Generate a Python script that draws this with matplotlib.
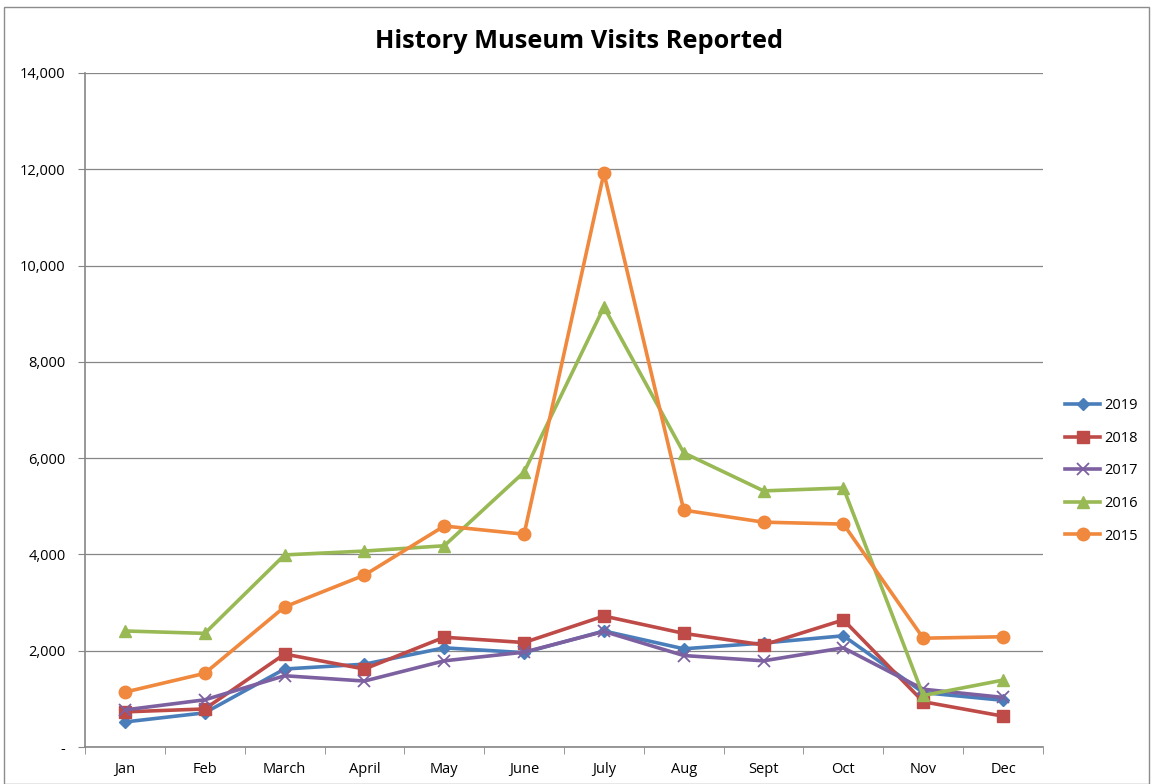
import matplotlib
matplotlib.use("Agg")
import matplotlib.pyplot as plt
from matplotlib.patches import Rectangle

months = ["Jan", "Feb", "March", "April", "May", "June", "July", "Aug", "Sept", "Oct", "Nov", "Dec"]
v2019 = [520, 710, 1620, 1720, 2060, 1960, 2410, 2040, 2160, 2310, 1130, 970]
v2018 = [730, 790, 1930, 1620, 2280, 2170, 2720, 2360, 2120, 2640, 940, 640]
v2017 = [770, 980, 1480, 1370, 1790, 1970, 2400, 1900, 1790, 2060, 1200, 1030]
v2016 = [2410, 2360, 3990, 4070, 4180, 5710, 9140, 6110, 5320, 5380, 1070, 1390]
v2015 = [1140, 1530, 2910, 3570, 4590, 4420, 11920, 4920, 4670, 4630, 2260, 2290]
series_names = ["2019", "2018", "2017", "2016", "2015"]
y_ticks = [0, 2000, 4000, 6000, 8000, 10000, 12000, 14000]
y_labels = ["-", "2,000", "4,000", "6,000", "8,000", "10,000", "12,000", "14,000"]

plt.rcParams['font.family'] = ['Open Sans', 'DejaVu Sans']

W, H = 1151, 784
fig = plt.figure(figsize=(W / 100, H / 100), dpi=100)
fig.patches.append(Rectangle((4 / W, 0), (W - 6) / W, (H - 7) / H, transform=fig.transFigure,
                             fill=False, edgecolor="#8c8c8c", linewidth=1.0))

ax = fig.add_axes([85 / W, 37 / H, (1043 - 85) / W, (747 - 73) / H])

styles = [
    dict(color="#4A7EBB", marker="D", markersize=6.5),
    dict(color="#BE4B48", marker="s", markersize=8.5),
    dict(color="#7D60A0", marker="x", markersize=8, markeredgewidth=1.3),
    dict(color="#98B954", marker="^", markersize=9),
    dict(color="#F0883E", marker="o", markersize=9),
]
data = [v2019, v2018, v2017, v2016, v2015]
x = list(range(len(months)))
lines = []
for name, vals, st in zip(series_names, data, styles):
    ln, = ax.plot(x, vals, linewidth=2.6, label=name, clip_on=False, **st)
    lines.append(ln)

ax.set_xlim(-0.5, len(months) - 0.5)
ax.set_ylim(0, 14000)
ax.set_yticks(y_ticks)
ax.set_yticklabels(y_labels)
ax.set_xticks(x)
ax.set_xticklabels(months)
ax.set_xticks([i - 0.5 for i in range(len(months) + 1)], minor=True)
ax.tick_params(axis="x", which="major", length=0, pad=11, labelsize=10.5)
ax.tick_params(axis="x", which="minor", length=5, color="#868686", direction="out")
ax.tick_params(axis="y", length=5, color="#868686", direction="out", pad=9, labelsize=10.5)
ax.grid(axis="y", color="#868686", linewidth=0.9)
ax.set_axisbelow(True)
for s in ["top", "right"]:
    ax.spines[s].set_visible(False)
for s in ["left", "bottom"]:
    ax.spines[s].set_color("#868686")
    ax.spines[s].set_linewidth(1.2)

fig.text(579 / W, 1 - 41 / H, "History Museum Visits Reported", ha="center", va="center",
         fontsize=18.3, fontweight="bold")

fig.legend(handles=lines, loc="center left", bbox_to_anchor=(1052 / W, 1 - 471 / H),
           frameon=False, fontsize=10.5, handlelength=2.4, labelspacing=1.2, handletextpad=0.3)

fig.savefig("out.png", dpi=100)
